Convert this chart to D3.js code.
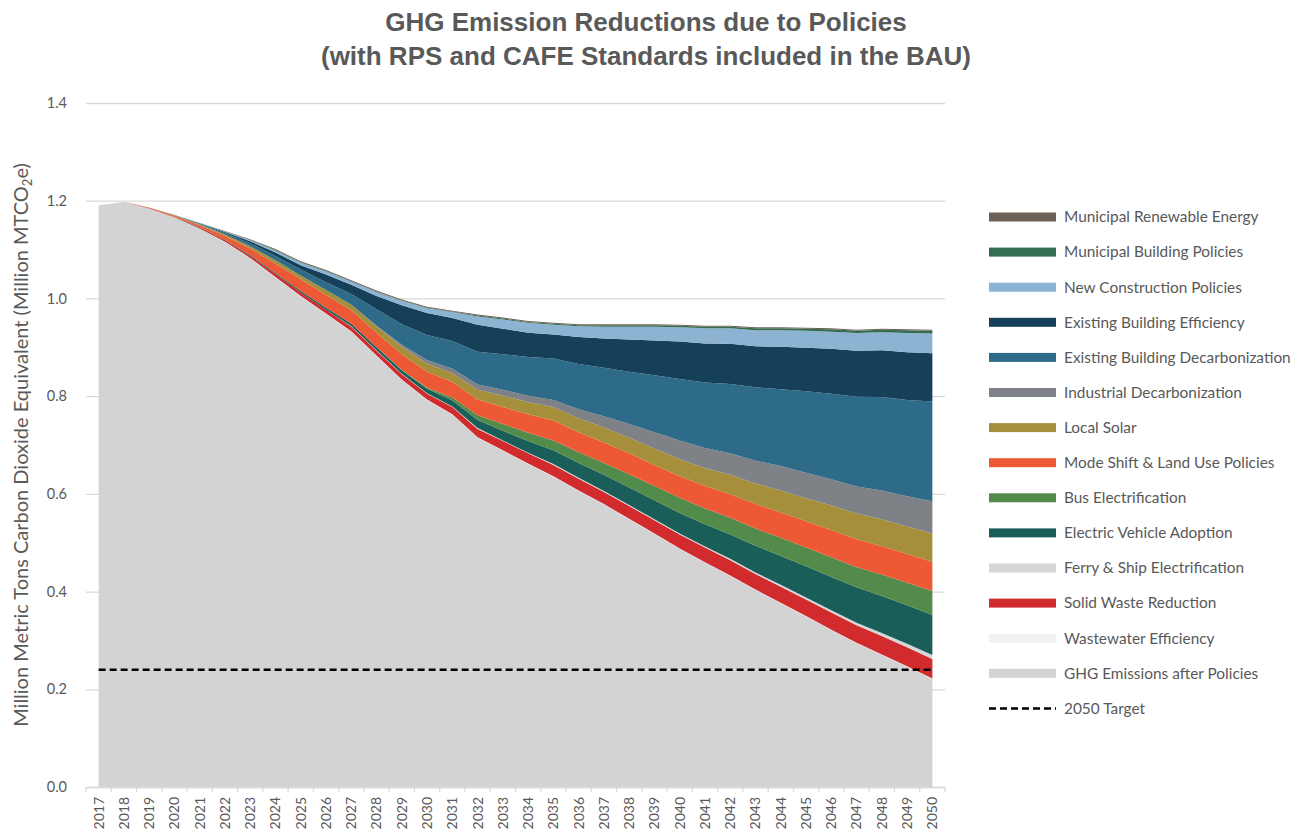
<!DOCTYPE html>
<html>
<head>
<meta charset="utf-8">
<script src="https://cdn.jsdelivr.net/npm/d3@7"></script>
<style>
  body { margin: 0; background: #ffffff; }
  svg text { font-family: Lato, "Open Sans", sans-serif; fill: #595959; }
  svg text.title { font-family: "Liberation Sans", Arial, sans-serif; font-weight: bold; }
</style>
</head>
<body>
<svg id="chart" width="1304" height="835"></svg>
<script>
// Years on the category axis
const years = ["2017","2018","2019","2020","2021","2022","2023","2024","2025","2026","2027","2028",
  "2029","2030","2031","2032","2033","2034","2035","2036","2037","2038","2039","2040","2041","2042",
  "2043","2044","2045","2046","2047","2048","2049","2050"];

// Million MTCO2e per year (stacked from the bottom up)
const ghgAfterPolicies = [1.190,1.198,1.184,1.166,1.143,1.115,1.082,1.043,1.004,0.968,0.932,0.882,
  0.833,0.792,0.762,0.715,0.688,0.661,0.635,0.606,0.578,0.548,0.518,0.487,0.459,0.432,0.403,0.376,
  0.349,0.321,0.294,0.270,0.246,0.221];
const wastewaterEfficiency = [0,0,0,0,0,0.001,0.001,0.001,0.001,0.001,0.001,0.001,0.001,0.001,0.001,
  0.001,0.001,0.001,0.001,0.001,0.001,0.001,0.001,0.001,0.001,0.001,0.001,0.001,0.001,0.001,0.001,
  0.001,0.001,0.001];
const solidWasteReduction = [0,0,0.001,0.001,0.002,0.003,0.004,0.006,0.007,0.008,0.009,0.010,0.011,
  0.012,0.015,0.017,0.019,0.021,0.023,0.024,0.025,0.026,0.027,0.029,0.030,0.031,0.032,0.033,0.034,
  0.035,0.036,0.038,0.039,0.040];
const ferryShipElectrification = [0,0,0,0,0,0,0,0,0,0,0.001,0.001,0.001,0.001,0.001,0.002,0.001,
  0.001,0.002,0.002,0.002,0.002,0.002,0.002,0.002,0.003,0.003,0.004,0.004,0.005,0.005,0.006,0.007,0.008];
const electricVehicleAdoption = [0,0,0,0,0.001,0.001,0.002,0.002,0.003,0.004,0.005,0.006,0.007,0.009,
  0.012,0.016,0.020,0.024,0.028,0.030,0.033,0.036,0.039,0.042,0.046,0.050,0.055,0.059,0.064,0.068,
  0.073,0.076,0.079,0.082];
const busElectrification = [0,0,0,0,0,0,0,0,0,0,0,0,0.001,0.002,0.006,0.010,0.014,0.017,0.020,0.022,
  0.024,0.027,0.029,0.031,0.032,0.034,0.035,0.037,0.038,0.040,0.041,0.044,0.046,0.049];
const modeShiftLandUse = [0,0,0.001,0.002,0.004,0.008,0.013,0.019,0.024,0.026,0.028,0.030,0.032,0.033,
  0.032,0.032,0.035,0.038,0.041,0.041,0.042,0.043,0.043,0.044,0.046,0.048,0.050,0.052,0.054,0.056,
  0.057,0.058,0.059,0.060];
const localSolar = [0,0,0,0.001,0.002,0.003,0.005,0.007,0.008,0.010,0.011,0.013,0.015,0.017,0.018,
  0.020,0.023,0.025,0.028,0.029,0.031,0.032,0.034,0.035,0.037,0.040,0.042,0.045,0.047,0.050,0.053,
  0.055,0.056,0.058];
const industrialDecarbonization = [0,0,0,0,0,0,0,0,0,0,0,0.001,0.004,0.007,0.009,0.011,0.012,0.013,
  0.014,0.018,0.023,0.028,0.033,0.038,0.041,0.044,0.047,0.050,0.052,0.054,0.055,0.059,0.062,0.066];
const existingBuildingDecarbonization = [0,0,0,0,0.001,0.003,0.006,0.009,0.012,0.016,0.022,0.034,0.042,
  0.051,0.057,0.067,0.073,0.079,0.085,0.093,0.099,0.107,0.117,0.126,0.134,0.142,0.150,0.157,0.167,
  0.175,0.184,0.191,0.197,0.204];
const existingBuildingEfficiency = [0,0,0,0.001,0.001,0.002,0.004,0.007,0.009,0.016,0.019,0.027,0.039,
  0.045,0.047,0.055,0.052,0.050,0.049,0.055,0.060,0.066,0.071,0.077,0.080,0.082,0.084,0.087,0.089,
  0.092,0.094,0.096,0.098,0.099];
const newConstructionPolicies = [0,0,0,0,0.001,0.001,0.002,0.004,0.005,0.006,0.006,0.008,0.009,0.010,
  0.012,0.017,0.019,0.020,0.020,0.022,0.024,0.026,0.028,0.029,0.031,0.032,0.033,0.034,0.035,0.035,
  0.036,0.037,0.039,0.040];
const municipalBuildingPolicies = [0,0,0,0,0,0,0.001,0.001,0.001,0.001,0.001,0.001,0.001,0.001,0.001,
  0.002,0.002,0.002,0.002,0.002,0.003,0.003,0.003,0.003,0.003,0.003,0.004,0.004,0.004,0.005,0.005,
  0.005,0.006,0.006];
const municipalRenewableEnergy = [0,0,0,0,0,0.001,0.001,0.002,0.002,0.002,0.002,0.002,0.002,0.002,
  0.002,0.002,0.002,0.002,0.002,0.002,0.002,0.002,0.002,0.002,0.002,0.002,0.002,0.002,0.002,0.002,
  0.002,0.002,0.002,0.002];

const target2050 = 0.24;
const yTicks = [0, 0.2, 0.4, 0.6, 0.8, 1.0, 1.2, 1.4];

// Layers in stacking order (bottom first)
const layers = [
  { key: "ghg",   label: "GHG Emissions after Policies",        color: "#d3d3d3", values: ghgAfterPolicies },
  { key: "ww",    label: "Wastewater Efficiency",               color: "#f1f1f1", values: wastewaterEfficiency },
  { key: "sw",    label: "Solid Waste Reduction",               color: "#d12b2e", values: solidWasteReduction },
  { key: "ferry", label: "Ferry & Ship Electrification",        color: "#d6d6d6", values: ferryShipElectrification },
  { key: "ev",    label: "Electric Vehicle Adoption",           color: "#195e58", values: electricVehicleAdoption },
  { key: "bus",   label: "Bus Electrification",                 color: "#538b4b", values: busElectrification },
  { key: "mode",  label: "Mode Shift & Land Use Policies",      color: "#ed5934", values: modeShiftLandUse },
  { key: "solar", label: "Local Solar",                         color: "#a68f3a", values: localSolar },
  { key: "ind",   label: "Industrial Decarbonization",          color: "#7e8185", values: industrialDecarbonization },
  { key: "ebd",   label: "Existing Building Decarbonization",   color: "#2e6b89", values: existingBuildingDecarbonization },
  { key: "ebe",   label: "Existing Building Efficiency",        color: "#163f5a", values: existingBuildingEfficiency },
  { key: "nc",    label: "New Construction Policies",           color: "#8db3d2", values: newConstructionPolicies },
  { key: "mb",    label: "Municipal Building Policies",         color: "#346d52", values: municipalBuildingPolicies },
  { key: "mr",    label: "Municipal Renewable Energy",          color: "#6e6055", values: municipalRenewableEnergy }
];

const table = years.map((yr, i) => {
  const row = { year: yr };
  layers.forEach(l => { row[l.key] = l.values[i]; });
  return row;
});

const svg = d3.select("#chart");

const plot = { left: 86, right: 945, top: 103, bottom: 787 };

const x = d3.scaleBand().domain(years).range([plot.left, plot.right]).padding(0);
const xc = d => x(d) + x.bandwidth() / 2;
const y = d3.scaleLinear().domain([0, 1.4]).range([plot.bottom, plot.top]);

// Title
svg.append("text").attr("class", "title")
  .attr("x", 646).attr("y", 31).attr("text-anchor", "middle")
  .attr("font-size", 26).text("GHG Emission Reductions due to Policies");
svg.append("text").attr("class", "title")
  .attr("x", 646).attr("y", 65).attr("text-anchor", "middle")
  .attr("font-size", 26).text("(with RPS and CAFE Standards included in the BAU)");

// Horizontal gridlines and value labels
const yAxis = d3.axisLeft(y).tickValues(yTicks).tickFormat(d3.format(".1f"))
  .tickSize(-(plot.right - plot.left)).tickPadding(19);
const gy = svg.append("g").attr("transform", `translate(${plot.left},0)`).call(yAxis);
gy.select(".domain").remove();
gy.selectAll(".tick line").attr("stroke", "#d9d9d9").attr("stroke-width", 1.3);
gy.selectAll(".tick text").attr("font-size", 14.5).attr("fill", "#595959")
  .style("font-family", "Lato, sans-serif");

// Stacked areas
const stack = d3.stack().keys(layers.map(l => l.key));
const stacked = stack(table);
const area = d3.area()
  .x(d => xc(d.data.year))
  .y0(d => y(d[0]))
  .y1(d => y(d[1]));

svg.append("g").selectAll("path")
  .data(stacked)
  .join("path")
  .attr("d", area)
  .attr("fill", (d, i) => layers[i].color);

// Category axis
const xAxis = d3.axisBottom(x).tickSize(0).tickFormat(d => d);
const gx = svg.append("g").attr("transform", `translate(0,${plot.bottom})`).call(xAxis);
gx.select(".domain").attr("stroke", "#d9d9d9").attr("stroke-width", 1.3);
gx.selectAll(".tick text")
  .attr("transform", "rotate(-90)")
  .attr("x", -10).attr("y", 0).attr("dy", "0.35em")
  .attr("text-anchor", "end")
  .attr("font-size", 14).attr("fill", "#595959")
  .style("font-family", "Lato, sans-serif");
// tick marks between categories
svg.append("g").selectAll("line")
  .data(years.concat(["_end"]))
  .join("line")
  .attr("x1", (d, i) => plot.left + i * x.bandwidth())
  .attr("x2", (d, i) => plot.left + i * x.bandwidth())
  .attr("y1", plot.bottom).attr("y2", plot.bottom + 5)
  .attr("stroke", "#d9d9d9").attr("stroke-width", 1.3);

// 2050 target line
svg.append("line")
  .attr("x1", xc(years[0])).attr("x2", xc(years[years.length - 1]))
  .attr("y1", y(target2050)).attr("y2", y(target2050))
  .attr("stroke", "#000").attr("stroke-width", 2.5).attr("stroke-dasharray", "7,4");

// Y axis title
const yTitle = svg.append("text")
  .attr("transform", `translate(28,445) rotate(-90)`)
  .attr("text-anchor", "middle").attr("font-size", 20).attr("fill", "#595959");
yTitle.append("tspan").text("Million Metric Tons Carbon Dioxide Equivalent (Million MTCO");
yTitle.append("tspan").attr("font-size", 13).attr("dy", 4).text("2");
yTitle.append("tspan").attr("dy", -4).text("e)");

// Legend (top of stack first)
const legendItems = layers.slice().reverse().map(l => ({ label: l.label, color: l.color, dashed: false }))
  .concat([{ label: "2050 Target", color: "#000", dashed: true }]);
const lg = svg.append("g");
const row = lg.selectAll("g").data(legendItems).join("g")
  .attr("transform", (d, i) => `translate(989,${217 + i * 35.1})`);
row.filter(d => !d.dashed).append("rect")
  .attr("x", 0).attr("y", -4.5).attr("width", 67).attr("height", 9)
  .attr("fill", d => d.color);
row.filter(d => d.dashed).append("line")
  .attr("x1", 0).attr("x2", 67).attr("y1", 0).attr("y2", 0)
  .attr("stroke", "#000").attr("stroke-width", 2.5).attr("stroke-dasharray", "7,4");
row.append("text")
  .attr("x", 75).attr("y", 0).attr("dy", "0.35em")
  .attr("font-size", 15.4).attr("fill", "#595959")
  .text(d => d.label);
</script>
</body>
</html>
